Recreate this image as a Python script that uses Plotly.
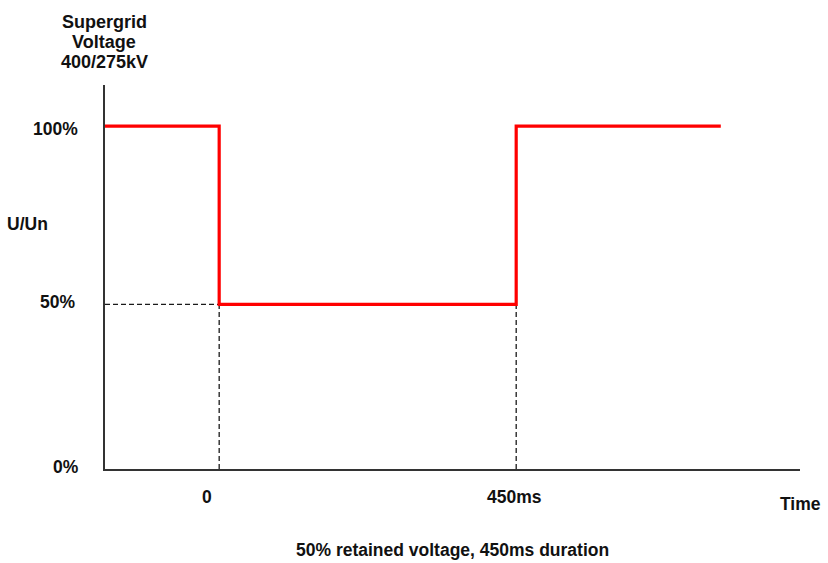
import plotly.graph_objects as go

# Data
time_ms = [-173, 0, 0, 450, 450, 760]
voltage_pct = [100, 100, 48, 48, 100, 100]
dip_level = 48
dip_start = 0
dip_end = 450
x_start = -173
x_end = 880
y_tick_labels = ["100%", "50%", "0%"]
x_tick_labels = ["0", "450ms"]
title_lines = ["Supergrid", "Voltage", "400/275kV"]
y_title = "U/Un"
x_title = "Time"
caption = "50% retained voltage, 450ms duration"

W, H = 828, 563
L, T = 105, 85
PW, PH = 800 - 105, 469 - 85
R, B = W - L - PW, H - T - PH

FONT = dict(family="Liberation Sans, Arial, sans-serif", size=17.5, color="#111")
TFONT = dict(family="Liberation Sans, Arial, sans-serif", size=18, color="#111")

fig = go.Figure()

dash_style = dict(color="#1a1a1a", width=1.3, dash="5px,3px")
fig.add_trace(go.Scatter(x=[x_start, dip_start], y=[dip_level, dip_level], mode="lines",
                         line=dash_style, hoverinfo="skip"))
fig.add_trace(go.Scatter(x=[dip_start, dip_start], y=[0, dip_level], mode="lines",
                         line=dash_style, hoverinfo="skip"))
fig.add_trace(go.Scatter(x=[dip_end, dip_end], y=[0, dip_level], mode="lines",
                         line=dash_style, hoverinfo="skip"))

fig.add_trace(go.Scatter(x=time_ms, y=voltage_pct, mode="lines",
                         line=dict(color="#ff0000", width=3.2), hoverinfo="skip"))

ann = []
def a(text, px, py, xanchor="center", font=FONT):
    fx = (px - L) / PW
    fy = 1 - (py - T) / PH
    ann.append(dict(text="<b>%s</b>" % text, x=fx, y=fy, xref="paper", yref="paper",
                    showarrow=False, font=font, xanchor=xanchor, yanchor="middle"))

a(title_lines[0], 104, 22, font=TFONT)
a(title_lines[1], 104, 42, font=TFONT)
a(title_lines[2], 104, 62, font=TFONT)
a(y_tick_labels[0], 80, 129, "right")
a(y_tick_labels[1], 77, 302, "right")
a(y_tick_labels[2], 81, 467, "right")
a(x_tick_labels[0], 207, 497)
a(x_tick_labels[1], 514, 497)
a(x_title, 801, 504)
a(y_title, 27, 224)
a(caption, 452, 550)

fig.update_layout(
    width=W, height=H,
    margin=dict(l=L, r=R, t=T, b=B, pad=0),
    plot_bgcolor="white", paper_bgcolor="white",
    showlegend=False,
    annotations=ann,
    xaxis=dict(range=[x_start, x_end], showgrid=False, zeroline=False, showticklabels=False,
               ticks="", showline=True, linecolor="#333", linewidth=2),
    yaxis=dict(range=[0, 112], showgrid=False, zeroline=False, showticklabels=False,
               ticks="", showline=True, linecolor="#333", linewidth=2),
)

fig.write_html("out.html", config={"displayModeBar": False},
               post_script="document.body.style.margin='0';")
